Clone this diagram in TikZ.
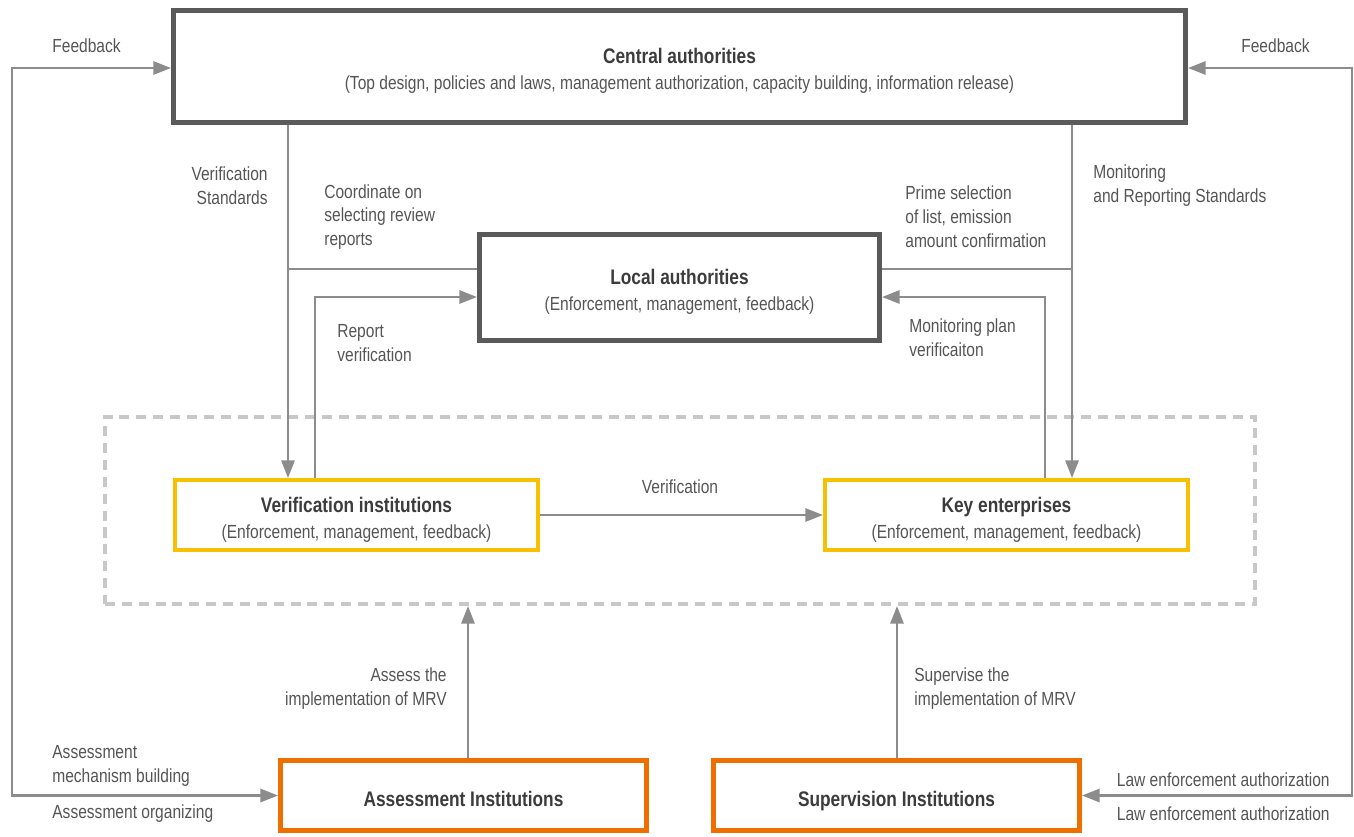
\documentclass[tikz,border=0pt]{standalone}
\usepackage{fontspec}
\setmainfont{Liberation Sans}[FakeStretch=0.82]
\usetikzlibrary{arrows.meta,calc}
\definecolor{boxdark}{HTML}{5A5A5A}
\definecolor{conngray}{HTML}{8C8C8C}
\definecolor{dashgray}{HTML}{C8C8C8}
\definecolor{yellowbox}{HTML}{F8C000}
\definecolor{orangebox}{HTML}{EE6E00}
\definecolor{txtgray}{HTML}{555555}
\definecolor{titlegray}{HTML}{3C3C3C}
\tikzset{
  every node/.style={font=\fontsize{10.8}{13.6}\selectfont, text=txtgray},
  darkbox/.style={draw=boxdark, line width=2.9pt, fill=white, inner sep=0pt},
  yellowbx/.style={draw=yellowbox, line width=2.3pt, fill=white, inner sep=0pt},
  orangebx/.style={draw=orangebox, line width=2.8pt, fill=white, inner sep=0pt},
  boxtxt/.style={inner sep=0pt, align=center},
  conn/.style={draw=conngray, line width=1.3pt},
  tip/.style={-{Triangle[length=10pt,width=7.5pt]}},
  bitip/.style={{Triangle[length=10pt,width=7.5pt]}-{Triangle[length=10pt,width=7.5pt]}},
  lbl/.style={inner sep=0pt, text=txtgray}
}
\newcommand{\ttlfont}{\fontsize{12}{15}\selectfont\bfseries\color{titlegray}}
\newcommand{\boxtitle}[2]{{\ttlfont #1}\\[1.2pt]#2}
\begin{document}
\begin{tikzpicture}[x=0.02cm, y=-0.02cm]
\useasboundingbox (0,0) rectangle (1354,836);

% dashed group
\node[draw=dashgray, line width=2.3pt, dash pattern=on 5.7pt off 3.9pt, minimum width=1150*0.02cm, minimum height=187*0.02cm, inner sep=0pt] (group) at (680,510.5) {};

% boxes
\node[darkbox, minimum width=1012*0.02cm, minimum height=112*0.02cm] (central) at (679.5,66.5) {};
\node[darkbox, minimum width=400*0.02cm, minimum height=106*0.02cm] (local) at (679.5,287.5) {};
\node[yellowbx, minimum width=363*0.02cm, minimum height=70*0.02cm] (verif) at (356.5,515) {};
\node[yellowbx, minimum width=363*0.02cm, minimum height=70*0.02cm] (key) at (1006.5,515) {};
\node[orangebx, minimum width=366*0.02cm, minimum height=70*0.02cm] (assess) at (463.5,795.5) {};
\node[orangebx, minimum width=366*0.02cm, minimum height=70*0.02cm] (superv) at (896.5,795.5) {};

% box texts
\node[boxtxt] (centralT) at ($(central.center)+(0,4.5)$)
  {\boxtitle{Central authorities}{(Top design, policies and laws, management authorization, capacity building, information release)}};
\node[boxtxt] (localT) at ($(local.center)+(0,4)$)
  {\boxtitle{Local authorities}{(Enforcement, management, feedback)}};
\node[boxtxt] (verifT) at ($(verif.center)+(0,4.5)$)
  {\boxtitle{Verification institutions}{(Enforcement, management, feedback)}};
\node[boxtxt] (keyT) at ($(key.center)+(0,4.5)$)
  {\boxtitle{Key enterprises}{(Enforcement, management, feedback)}};
\node[boxtxt, text height=8.6pt, text depth=0pt] (assessT) at ($(assess.center)+(0,3.5)$)
  {\ttlfont Assessment Institutions};
\node[boxtxt, text height=8.6pt, text depth=0pt] (supervT) at ($(superv.center)+(0,3.5)$)
  {\ttlfont Supervision Institutions};

% helper coordinates
\coordinate (xa) at (288,0);
\coordinate (xb) at (315,0);
\coordinate (xc) at (1045,0);
\coordinate (xd) at (1072,0);
\coordinate (xe) at (468,0);
\coordinate (xf) at (897,0);
\coordinate (xl) at (12,0);
\coordinate (xr) at (1352,0);
\coordinate (yh) at (0,269);
\coordinate (yr) at (0,297);
\coordinate (yfb) at (0,68);

% connectors
\draw[conn,tip] (central.south -| xa) -- (xa |- verif.north);
\draw[conn] (xa |- yh) -- (local.west |- yh);
\draw[conn,tip] (xb |- verif.north) -- (xb |- yr) -- (local.west |- yr);
\draw[conn,tip] (central.south -| xd) -- (xd |- key.north);
\draw[conn] (xd |- yh) -- (local.east |- yh);
\draw[conn,tip] (xc |- key.north) -- (xc |- yr) -- (local.east |- yr);
\draw[conn,tip] (verif.east) -- (key.west);
\draw[conn,tip] (assess.north -| xe) -- (xe |- group.south);
\draw[conn,tip] (superv.north -| xf) -- (xf |- group.south);
\draw[conn,bitip] (assess.west) -| (xl |- yfb) -- (central.west |- yfb);
\draw[conn,bitip] (superv.east) -| (xr |- yfb) -- (central.east |- yfb);

% labels
\node[lbl, anchor=west] (fbl) at (52,46) {Feedback};
\node[lbl, anchor=east] (fbr) at (1310,46) {Feedback};
\node[lbl, anchor=east, align=right] (vs) at (268,186) {Verification\\Standards};
\node[lbl, anchor=west, align=left] (coord) at (324,217) {Coordinate on\\selecting review\\reports};
\node[lbl, anchor=west, align=left] (prime) at (905,217) {Prime selection\\of list, emission\\amount confirmation};
\node[lbl, anchor=west, align=left] (mrs) at (1093,186) {Monitoring\\and Reporting Standards};
\node[lbl, anchor=west, align=left] (rv) at (337,343) {Report\\verification};
\node[lbl, anchor=west, align=left] (mpv) at (909,338) {Monitoring plan\\verificaiton};
\node[lbl] (verlbl) at (680,487) {Verification};
\node[lbl, anchor=east, align=right] (asl) at (447,689) {Assess the\\implementation of MRV};
\node[lbl, anchor=west, align=left] (svl) at (914,689) {Supervise the\\implementation of MRV};
\node[lbl, anchor=west, align=left] (amb) at (52,766) {Assessment\\mechanism building};
\node[lbl, anchor=west] (aorg) at (52,814) {Assessment organizing};
\node[lbl, anchor=east] (lea1) at (1330,780) {Law enforcement authorization};
\node[lbl, anchor=east] (lea2) at (1330,814) {Law enforcement authorization};
\end{tikzpicture}
\end{document}
